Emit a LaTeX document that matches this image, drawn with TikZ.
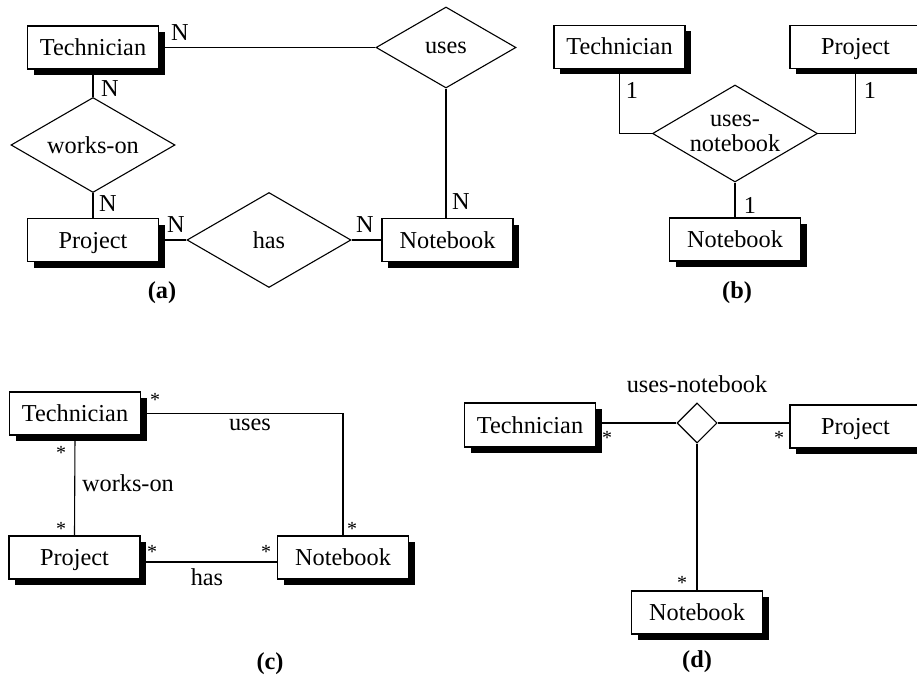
\documentclass[tikz,border=0pt]{standalone}
\usepackage{fontspec}
\setmainfont{Liberation Serif}
\usetikzlibrary{shapes.geometric,shadows}
\begin{document}
\begin{tikzpicture}[x=1pt,y=-1pt,
  every node/.style={font=\fontsize{24.3}{26}\selectfont},
  entity/.style={draw,fill=white,line width=1.1pt,minimum width=131pt,minimum height=43pt,inner sep=0pt,
    text height=18pt,text depth=2pt,
    drop shadow={shadow xshift=6pt,shadow yshift=-6pt,fill=black,opacity=1}},
  rel/.style={draw,diamond,fill=white,line width=1.1pt,inner sep=0pt,aspect=1.7},
  conn/.style={line width=1.1pt},
  card/.style={inner sep=0pt},
  asterisk/.style={inner sep=0pt,font=\fontsize{20}{22}\selectfont},
  captxt/.style={font=\fontsize{24.3}{26}\selectfont\bfseries},
]
\useasboundingbox (0,0) rectangle (917,679);

% ---------------- (a)
\node[entity] (Ta) at (93,47.5) {Technician};
\node[rel,minimum width=140pt,minimum height=81pt] (Ua) at (446,47.5) {uses};
\node[rel,minimum width=164pt,minimum height=95pt] (Wa) at (93,145) {works-on};
\node[entity] (Pa) at (93,240) {Project};
\node[rel,minimum width=164pt,minimum height=95pt] (Ha) at (269,240) {has};
\node[entity] (Na) at (447.5,240) {Notebook};
\draw[conn] (Ta.east) -- (Ua.west);
\draw[conn] (Ta.south) -- (Wa.north);
\draw[conn] (Wa.south) -- (Pa.north);
\draw[conn] (Pa.east) -- (Ha.west);
\draw[conn] (Ha.east) -- (Na.west);
\draw[conn] (Ua.south) -- (Ua.south |- Na.north);
\node[card] (na1) at (180,33) {N};
\node[card] (na2) at (110,89) {N};
\node[card] (na3) at (108,204) {N};
\node[card] (na4) at (176,225) {N};
\node[card] (na5) at (365,225) {N};
\node[card] (na6) at (461,202) {N};
\node[captxt] (capa) at (162,293) {(a)};

% ---------------- (b)
\node[entity] (Tb) at (619.5,47) {Technician};
\node[entity] (Pb) at (855.5,47) {Project};
\node[rel,minimum width=165pt,minimum height=97pt,align=center,font=\fontsize{24.3}{25}\selectfont] (Ub) at (735,133.5) {uses-\\notebook};
\node[entity] (Nb) at (735,239.5) {Notebook};
\draw[conn] (Tb.south) |- (Ub.west);
\draw[conn] (Pb.south) |- (Ub.east);
\draw[conn] (Ub.south) -- (Nb.north);
\node[card] (nb1) at (632,90) {1};
\node[card] (nb2) at (870,90) {1};
\node[card] (nb3) at (750,205) {1};
\node[captxt] (capb) at (737,293) {(b)};

% ---------------- (c)
\node[entity] (Tc) at (75,413.5) {Technician};
\node[entity] (Pc) at (74.5,557.5) {Project};
\node[entity] (Nc) at (343,557.5) {Notebook};
\draw[conn] (Tc.east) -| (Nc.north);
\draw[conn] (Tc.south) -- (Pc.north);
\draw[conn] ([yshift=-4.5pt]Pc.east) -- ([yshift=-4.5pt]Nc.west);
\node (usesc) at (250,425) {uses};
\node (workc) at (128,483) {works-on};
\node (hasc) at (207,577) {has};
\node[asterisk] (sc1) at (155,400) {*};
\node[asterisk] (sc2) at (61,453) {*};
\node[asterisk] (sc3) at (61,529) {*};
\node[asterisk] (sc4) at (352,529) {*};
\node[asterisk] (sc5) at (152,552) {*};
\node[asterisk] (sc6) at (266,552) {*};
\node[captxt] (capc) at (270,664) {(c)};

% ---------------- (d)
\node[entity,minimum height=44pt] (Td) at (530,425) {Technician};
\node[rel,aspect=1,minimum width=40pt,minimum height=40pt] (Ud) at (697,423) {};
\node[entity] (Pd) at (855.5,426.5) {Project};
\node[entity] (Nd) at (697,612.5) {Notebook};
\draw[conn] (Ud.west) -- (Ud.west -| Td.east);
\draw[conn] (Ud.east) -- (Ud.east -| Pd.west);
\draw[conn] (Ud.south) -- (Nd.north);
\node (unld) at (697,384) {uses-notebook};
\node[asterisk] (sd1) at (607,438) {*};
\node[asterisk] (sd2) at (779,438) {*};
\node[asterisk] (sd3) at (682,583) {*};
\node[captxt] (capd) at (697,662) {(d)};
\end{tikzpicture}
\end{document}
